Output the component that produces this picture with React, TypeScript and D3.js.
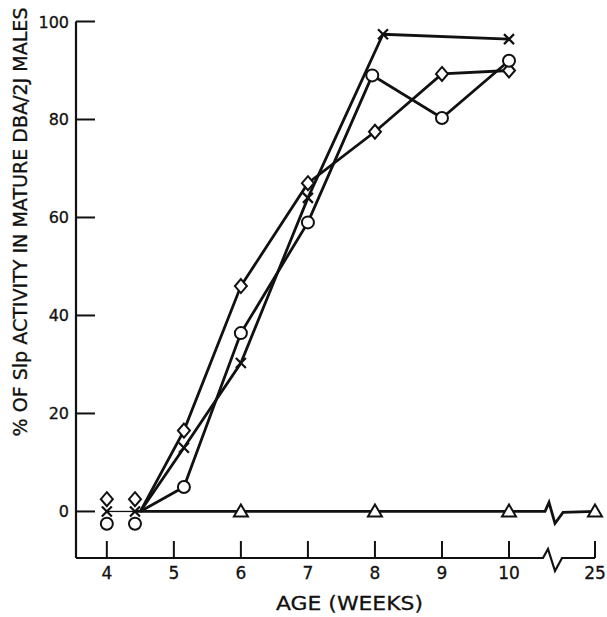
import React, { useEffect, useRef } from "react";
import * as d3 from "d3";

// Age (weeks) and % of Slp activity
const diamondAges = [4.5, 5.15, 6, 7, 8, 9, 10];
const diamondValues = [0, 16.5, 46, 67, 77.5, 89.3, 90];
const circleAges = [4.5, 5.15, 6, 7, 7.96, 9, 10];
const circleValues = [0, 5, 36.4, 59, 89, 80.3, 92];
const crossAges = [4.5, 5.15, 6, 7, 8.12, 10];
const crossValues = [0, 13, 30.3, 64, 97.4, 96.4];
const triangleAges = [6, 8, 10, 25];
const triangleValues = [0, 0, 0, 0];

// isolated early points (4 and ~4.4 weeks)
const earlyAges = [4, 4.42];
const earlyDiamond = [2.5, 2.5];
const earlyCross = [0, 0];
const earlyCircle = [-2.5, -2.5];

const xTicks = [4, 5, 6, 7, 8, 9, 10, 25];
const yTicks = [0, 20, 40, 60, 80, 100];

const App = () => {
  const ref = useRef<SVGSVGElement | null>(null);

  useEffect(() => {
    const svg = d3.select(ref.current);
    svg.selectAll("*").remove();

    const x = d3.scaleLinear().domain([3.54, 10, 25]).range([76, 509, 595]);
    const y = d3.scaleLinear().domain([-9.5, 100]).range([558, 21.5]);
    const font = "'DejaVu Sans', Verdana, sans-serif";

    const ink = "#111";

    // axes
    const axis = svg.append("g").attr("stroke", ink).attr("fill", "none");
    axis.append("line").attr("x1", x(3.54)).attr("x2", x(3.54)).attr("y1", y(100)).attr("y2", y(-9.5)).attr("stroke-width", 2.2);

    // bottom axis with break
    const bx = x(10) + 34;
    const by = y(-9.5);
    axis
      .append("path")
      .attr("stroke-width", 2.2)
      .attr(
        "d",
        d3.line()([
          [x(3.54), by],
          [bx, by],
          [bx + 5, by - 9],
          [bx + 12, by + 13],
          [bx + 19, by],
          [x(25), by],
        ])
      );

    yTicks.forEach((t) => {
      axis.append("line").attr("x1", x(3.54)).attr("x2", x(3.54) + 19).attr("y1", y(t)).attr("y2", y(t)).attr("stroke-width", 2);
    });
    xTicks.forEach((t) => {
      axis.append("line").attr("x1", x(t)).attr("x2", x(t)).attr("y1", by).attr("y2", by - 17).attr("stroke-width", 2);
    });

    // tick labels
    svg
      .append("g")
      .selectAll("text")
      .data(yTicks)
      .enter()
      .append("text")
      .attr("x", 69)
      .attr("y", (d) => y(d) + 6)
      .attr("text-anchor", "end")
      .style("font-family", font)
      .style("font-size", "16px")
      .attr("fill", ink)
      .attr("stroke", ink)
      .attr("stroke-width", 0.3)
      .text((d) => d);

    svg
      .append("g")
      .selectAll("text")
      .data(xTicks)
      .enter()
      .append("text")
      .attr("x", (d) => x(d))
      .attr("y", 579)
      .attr("text-anchor", "middle")
      .style("font-family", font)
      .style("font-size", "17px")
      .attr("fill", ink)
      .attr("stroke", ink)
      .attr("stroke-width", 0.3)
      .text((d) => d);

    // axis titles
    svg
      .append("text")
      .attr("x", 349.5)
      .attr("y", 610)
      .attr("text-anchor", "middle")
      .attr("textLength", 147)
      .attr("lengthAdjust", "spacingAndGlyphs")
      .style("font-family", font)
      .style("font-size", "20px")
      .attr("fill", ink)
      .attr("stroke", ink)
      .attr("stroke-width", 0.3)
      .text("AGE (WEEKS)");

    svg
      .append("text")
      .attr("transform", "translate(27,222) rotate(-90)")
      .attr("text-anchor", "middle")
      .attr("textLength", 429)
      .attr("lengthAdjust", "spacingAndGlyphs")
      .style("font-family", font)
      .style("font-size", "19px")
      .attr("fill", ink)
      .attr("stroke", ink)
      .attr("stroke-width", 0.3)
      .text("% OF Slp ACTIVITY IN MATURE DBA/2J MALES");

    // thin connector between early points
    svg
      .append("line")
      .attr("x1", x(earlyAges[0]))
      .attr("x2", x(earlyAges[1]))
      .attr("y1", y(0))
      .attr("y2", y(0))
      .attr("stroke", ink)
      .attr("stroke-width", 1.3);

    // triangle series baseline with break
    const tb = x(10) + 36;
    svg
      .append("path")
      .attr("fill", "none")
      .attr("stroke", ink)
      .attr("stroke-width", 2.8)
      .attr(
        "d",
        d3.line()([
          [x(earlyAges[1]), y(0)],
          [tb, y(0)],
          [tb + 4, y(0) - 9],
          [tb + 10, y(0) + 12],
          [tb + 18, y(0) + 1],
          [x(25), y(0)],
        ])
      );

    const line = d3
      .line<[number, number]>()
      .x((d) => x(d[0]))
      .y((d) => y(d[1]));

    const series = [
      { ages: diamondAges, values: diamondValues, shape: "diamond" },
      { ages: circleAges, values: circleValues, shape: "circle" },
      { ages: crossAges, values: crossValues, shape: "cross" },
    ];

    series.forEach((s) => {
      const pts = s.ages.map((a, i) => [a, s.values[i]] as [number, number]);
      svg
        .append("path")
        .attr("fill", "none")
        .attr("stroke", ink)
        .attr("stroke-width", 2.8)
        .attr("d", line(pts));
    });

    const drawMarker = (shape: string, a: number, v: number) => {
      const cx = x(a);
      const cy = y(v);
      if (shape === "diamond") {
        svg
          .append("path")
          .attr("d", `M${cx},${cy - 7}L${cx + 6},${cy}L${cx},${cy + 7}L${cx - 6},${cy}Z`)
          .attr("fill", "white")
          .attr("stroke", ink)
          .attr("stroke-width", 2);
      } else if (shape === "circle") {
        svg.append("circle").attr("cx", cx).attr("cy", cy).attr("r", 6).attr("fill", "white").attr("stroke", ink).attr("stroke-width", 2);
      } else if (shape === "cross") {
        svg
          .append("path")
          .attr("d", `M${cx - 5},${cy - 5}L${cx + 5},${cy + 5}M${cx - 5},${cy + 5}L${cx + 5},${cy - 5}`)
          .attr("stroke", ink)
          .attr("stroke-width", 2.2);
      } else {
        svg
          .append("path")
          .attr("d", `M${cx},${cy - 7}L${cx + 7},${cy + 5}L${cx - 7},${cy + 5}Z`)
          .attr("fill", "white")
          .attr("stroke", ink)
          .attr("stroke-width", 2);
      }
    };

    // markers (first point of each line is the unmarked origin)
    series.forEach((s) => {
      s.ages.forEach((a, i) => {
        if (i > 0) drawMarker(s.shape, a, s.values[i]);
      });
    });
    triangleAges.forEach((a, i) => drawMarker("triangle", a, triangleValues[i]));
    earlyAges.forEach((a, i) => {
      drawMarker("diamond", a, earlyDiamond[i]);
      drawMarker("cross", a, earlyCross[i]);
      drawMarker("circle", a, earlyCircle[i]);
    });
  }, []);

  return (
    <svg
      ref={ref}
      width={607}
      height={617}
      style={{ position: "absolute", left: 0, top: 0, background: "white" }}
    />
  );
};

export default App;
